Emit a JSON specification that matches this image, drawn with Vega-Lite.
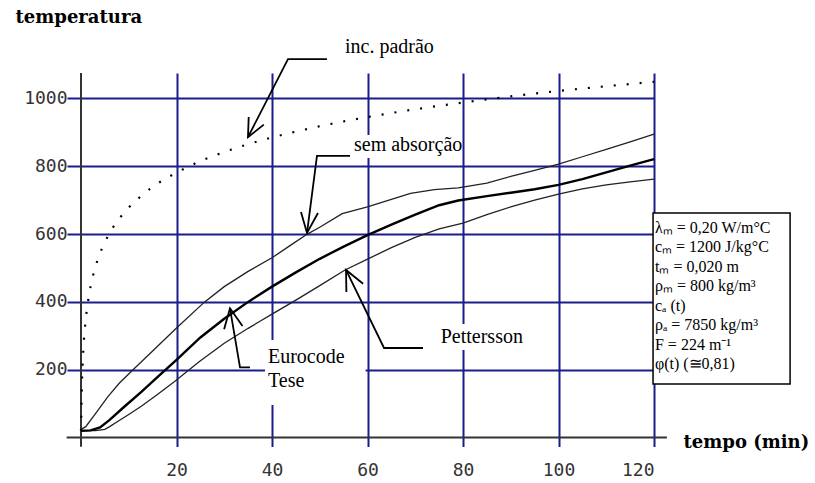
{
  "$schema": "https://vega.github.io/schema/vega-lite/v6.json",
  "autosize": {"type": "none"},
  "width": 573,
  "height": 364.5,
  "padding": {"left": 81, "top": 73, "right": 161, "bottom": 45.5},
  "background": "white",
  "config": {
    "view": {"stroke": null},
    "axis": {
      "grid": true,
      "gridColor": "#1c1c8c",
      "gridWidth": 2,
      "gridOpacity": 1,
      "tickColor": "#1c1c8c",
      "tickWidth": 2,
      "domain": false,
      "labelFont": "DejaVu Sans Mono",
      "labelFontSize": 18,
      "labelColor": "#333333",
      "titleFont": "DejaVu Serif",
      "titleFontSize": 18,
      "titleFontWeight": "bold",
      "titleColor": "black"
    }
  },
  "datasets": {
    "curves": [
      {"s": "iso", "t": 0, "T": 20}, {"s": "iso", "t": 0.25, "T": 185}, {"s": "iso", "t": 0.5, "T": 261},
      {"s": "iso", "t": 1, "T": 349}, {"s": "iso", "t": 1.5, "T": 404}, {"s": "iso", "t": 2, "T": 445},
      {"s": "iso", "t": 3, "T": 502}, {"s": "iso", "t": 4, "T": 544}, {"s": "iso", "t": 5, "T": 576},
      {"s": "iso", "t": 6, "T": 603}, {"s": "iso", "t": 8, "T": 645}, {"s": "iso", "t": 10, "T": 678},
      {"s": "iso", "t": 12, "T": 705}, {"s": "iso", "t": 15, "T": 739}, {"s": "iso", "t": 20, "T": 781},
      {"s": "iso", "t": 25, "T": 815}, {"s": "iso", "t": 30, "T": 842}, {"s": "iso", "t": 35, "T": 865},
      {"s": "iso", "t": 40, "T": 885}, {"s": "iso", "t": 45, "T": 902}, {"s": "iso", "t": 50, "T": 918},
      {"s": "iso", "t": 60, "T": 945}, {"s": "iso", "t": 70, "T": 968}, {"s": "iso", "t": 80, "T": 988},
      {"s": "iso", "t": 90, "T": 1006}, {"s": "iso", "t": 100, "T": 1022}, {"s": "iso", "t": 110, "T": 1036},
      {"s": "iso", "t": 120, "T": 1049},

      {"s": "sem", "t": 0, "T": 24}, {"s": "sem", "t": 1, "T": 32}, {"s": "sem", "t": 3, "T": 70},
      {"s": "sem", "t": 5.6, "T": 120}, {"s": "sem", "t": 8, "T": 160}, {"s": "sem", "t": 10.9, "T": 200},
      {"s": "sem", "t": 15, "T": 255}, {"s": "sem", "t": 20, "T": 323}, {"s": "sem", "t": 25.9, "T": 400},
      {"s": "sem", "t": 30, "T": 445}, {"s": "sem", "t": 35, "T": 490}, {"s": "sem", "t": 40, "T": 530},
      {"s": "sem", "t": 44, "T": 568}, {"s": "sem", "t": 47.4, "T": 600}, {"s": "sem", "t": 50, "T": 620},
      {"s": "sem", "t": 54.7, "T": 660}, {"s": "sem", "t": 60, "T": 680}, {"s": "sem", "t": 65, "T": 702},
      {"s": "sem", "t": 69, "T": 720}, {"s": "sem", "t": 74, "T": 731}, {"s": "sem", "t": 79, "T": 736},
      {"s": "sem", "t": 85, "T": 750}, {"s": "sem", "t": 90, "T": 770}, {"s": "sem", "t": 95, "T": 788},
      {"s": "sem", "t": 100, "T": 806}, {"s": "sem", "t": 105, "T": 828}, {"s": "sem", "t": 110, "T": 850},
      {"s": "sem", "t": 115, "T": 872}, {"s": "sem", "t": 120, "T": 895},

      {"s": "euro", "t": 0, "T": 20}, {"s": "euro", "t": 2, "T": 21}, {"s": "euro", "t": 4, "T": 30},
      {"s": "euro", "t": 6, "T": 52}, {"s": "euro", "t": 9, "T": 90}, {"s": "euro", "t": 12.7, "T": 135},
      {"s": "euro", "t": 16, "T": 178}, {"s": "euro", "t": 20, "T": 229}, {"s": "euro", "t": 25, "T": 295},
      {"s": "euro", "t": 30, "T": 350}, {"s": "euro", "t": 35, "T": 400}, {"s": "euro", "t": 40, "T": 445},
      {"s": "euro", "t": 45, "T": 487}, {"s": "euro", "t": 50, "T": 527}, {"s": "euro", "t": 55, "T": 563},
      {"s": "euro", "t": 60, "T": 597}, {"s": "euro", "t": 65, "T": 628}, {"s": "euro", "t": 70, "T": 657},
      {"s": "euro", "t": 75, "T": 685}, {"s": "euro", "t": 79, "T": 699}, {"s": "euro", "t": 85, "T": 712},
      {"s": "euro", "t": 90, "T": 722}, {"s": "euro", "t": 95, "T": 732}, {"s": "euro", "t": 100, "T": 745},
      {"s": "euro", "t": 105, "T": 762}, {"s": "euro", "t": 110, "T": 782}, {"s": "euro", "t": 115, "T": 802},
      {"s": "euro", "t": 120, "T": 821},

      {"s": "pet", "t": 0, "T": 20}, {"s": "pet", "t": 3, "T": 20}, {"s": "pet", "t": 5, "T": 24},
      {"s": "pet", "t": 6, "T": 32}, {"s": "pet", "t": 8, "T": 50}, {"s": "pet", "t": 10, "T": 68},
      {"s": "pet", "t": 12.7, "T": 93}, {"s": "pet", "t": 16, "T": 127}, {"s": "pet", "t": 19.6, "T": 165},
      {"s": "pet", "t": 24.8, "T": 224}, {"s": "pet", "t": 30, "T": 278}, {"s": "pet", "t": 35, "T": 322},
      {"s": "pet", "t": 37.4, "T": 342}, {"s": "pet", "t": 40, "T": 364}, {"s": "pet", "t": 45, "T": 405},
      {"s": "pet", "t": 50, "T": 448}, {"s": "pet", "t": 55.3, "T": 494}, {"s": "pet", "t": 60, "T": 526},
      {"s": "pet", "t": 65, "T": 560}, {"s": "pet", "t": 70, "T": 590}, {"s": "pet", "t": 75, "T": 615},
      {"s": "pet", "t": 80, "T": 632}, {"s": "pet", "t": 85, "T": 657}, {"s": "pet", "t": 90, "T": 680},
      {"s": "pet", "t": 95, "T": 700}, {"s": "pet", "t": 100, "T": 718}, {"s": "pet", "t": 105, "T": 733},
      {"s": "pet", "t": 110, "T": 745}, {"s": "pet", "t": 115, "T": 754}, {"s": "pet", "t": 120, "T": 762}
    ],
    "blanks": [
      {"t": 38.53, "t2": 59.6, "T": 287.6, "T2": 95.9},
      {"t": 56.34, "t2": 79.6, "T": 892, "T2": 824.5},
      {"t": 74.55, "t2": 93.4, "T": 334.8, "T2": 258.1}
    ],
    "axislines": [
      {"t": -3, "t2": 122.7, "T": 0, "T2": 0},
      {"t": 0, "t2": 0, "T": -27, "T2": 1075}
    ],
    "arrows": [
      {"id": "a1s", "o": 1, "t": 51.5, "T": 1116}, {"id": "a1s", "o": 2, "t": 43.35, "T": 1116}, {"id": "a1s", "o": 3, "t": 34.97, "T": 886},
      {"id": "a1h", "o": 1, "t": 38.29, "T": 922.7}, {"id": "a1h", "o": 2, "t": 34.97, "T": 886}, {"id": "a1h", "o": 3, "t": 35.12, "T": 945.4},
      {"id": "a2s", "o": 1, "t": 56.34, "T": 830.4}, {"id": "a2s", "o": 2, "t": 49.42, "T": 830.4}, {"id": "a2s", "o": 3, "t": 47.33, "T": 603.2},
      {"id": "a2h", "o": 1, "t": 49.63, "T": 662.2}, {"id": "a2h", "o": 2, "t": 47.33, "T": 603.2}, {"id": "a2h", "o": 3, "t": 46.07, "T": 665.2},
      {"id": "a3s", "o": 1, "t": 71.62, "T": 264.0}, {"id": "a3s", "o": 2, "t": 63.46, "T": 264.0}, {"id": "a3s", "o": 3, "t": 55.5, "T": 494.1},
      {"id": "a3h", "o": 1, "t": 55.58, "T": 429.2}, {"id": "a3h", "o": 2, "t": 55.5, "T": 494.1}, {"id": "a3h", "o": 3, "t": 59.08, "T": 453.4},
      {"id": "a4s", "o": 1, "t": 35.39, "T": 207.1}, {"id": "a4s", "o": 2, "t": 33.3, "T": 207.1}, {"id": "a4s", "o": 3, "t": 31.2, "T": 381.1},
      {"id": "a4h", "o": 1, "t": 29.97, "T": 319.5}, {"id": "a4h", "o": 2, "t": 31.2, "T": 381.1}, {"id": "a4h", "o": 3, "t": 33.82, "T": 328.6}
    ],
    "labels": [
      {"text": "inc. padrão", "t": 55.29, "T": 1134.2},
      {"text": "sem absorção", "t": 57.17, "T": 843.7},
      {"text": "Eurocode", "t": 39.16, "T": 220.6},
      {"text": "Tese", "t": 39.16, "T": 149.9},
      {"text": "Pettersson", "t": 75.33, "T": 278.8}
    ],
    "box": [
      {"t": 119.8, "t2": 148.5, "T": 662, "T2": 158}
    ],
    "params": [
      {"text": "λₘ =  0,20 W/m°C", "t": 120.2, "T": 603.2},
      {"text": "cₘ =  1200 J/kg°C", "t": 120.2, "T": 545.7},
      {"text": "tₘ =  0,020 m", "t": 120.2, "T": 488.2},
      {"text": "ρₘ = 800 kg/m³", "t": 120.2, "T": 430.7},
      {"text": "cₐ (t)", "t": 120.2, "T": 373.2},
      {"text": "ρₐ = 7850 kg/m³", "t": 120.2, "T": 315.7},
      {"text": "F = 224 m⁻¹", "t": 120.2, "T": 258.2},
      {"text": "φ(t) (≅0,81)", "t": 120.2, "T": 200.7}
    ]
  },
  "layer": [
    {
      "data": {"name": "blanks"},
      "mark": {"type": "rect", "fill": "white", "strokeWidth": 0},
      "encoding": {
        "x": {
          "field": "t", "type": "quantitative",
          "scale": {"domain": [0, 120], "nice": false, "zero": false},
          "axis": {
            "values": [20, 40, 60, 80, 100, 120],
            "format": "d",
            "tickSize": 9,
            "labelPadding": 15,
            "labelBaseline": "top",
            "title": "tempo (min)",
            "titleX": 602,
            "titleY": 9.5,
            "titleAlign": "left",
            "titleBaseline": "alphabetic",
            "titleAnchor": null
          }
        },
        "x2": {"field": "t2"},
        "y": {
          "field": "T", "type": "quantitative",
          "scale": {"domain": [0, 1075], "nice": false, "zero": false},
          "axis": {
            "values": [200, 400, 600, 800, 1000],
            "format": "d",
            "tickSize": 14,
            "labelPadding": 0,
            "labelBaseline": "middle",
            "title": "temperatura",
            "titleAngle": 0,
            "titleX": -66,
            "titleY": -50.5,
            "titleAlign": "left",
            "titleBaseline": "alphabetic"
          }
        },
        "y2": {"field": "T2"}
      }
    },
    {
      "data": {"name": "axislines"},
      "mark": {"type": "rule", "color": "#333333", "strokeWidth": 2},
      "encoding": {
        "x": {"field": "t", "type": "quantitative"},
        "x2": {"field": "t2"},
        "y": {"field": "T", "type": "quantitative"},
        "y2": {"field": "T2"}
      }
    },
    {
      "data": {"name": "curves"},
      "transform": [{"filter": "datum.s === 'iso'"}],
      "mark": {"type": "line", "color": "black", "strokeWidth": 2.2, "strokeDash": [2, 11], "interpolate": "monotone"},
      "encoding": {
        "x": {"field": "t", "type": "quantitative"},
        "y": {"field": "T", "type": "quantitative"}
      }
    },
    {
      "data": {"name": "curves"},
      "transform": [{"filter": "datum.s === 'sem' || datum.s === 'pet'"}],
      "mark": {"type": "line", "color": "#222222", "strokeWidth": 1.3},
      "encoding": {
        "x": {"field": "t", "type": "quantitative"},
        "y": {"field": "T", "type": "quantitative"},
        "detail": {"field": "s"}
      }
    },
    {
      "data": {"name": "curves"},
      "transform": [{"filter": "datum.s === 'euro'"}],
      "mark": {"type": "line", "color": "black", "strokeWidth": 2.4},
      "encoding": {
        "x": {"field": "t", "type": "quantitative"},
        "y": {"field": "T", "type": "quantitative"}
      }
    },
    {
      "data": {"name": "arrows"},
      "mark": {"type": "line", "color": "black", "strokeWidth": 1.8},
      "encoding": {
        "x": {"field": "t", "type": "quantitative"},
        "y": {"field": "T", "type": "quantitative"},
        "detail": {"field": "id"},
        "order": {"field": "o"}
      }
    },
    {
      "data": {"name": "labels"},
      "mark": {"type": "text", "font": "Liberation Serif", "fontSize": 20, "align": "left", "baseline": "alphabetic", "color": "black"},
      "encoding": {
        "x": {"field": "t", "type": "quantitative"},
        "y": {"field": "T", "type": "quantitative"},
        "text": {"field": "text"}
      }
    },
    {
      "data": {"name": "box"},
      "mark": {"type": "rect", "fill": "white", "stroke": "black", "strokeWidth": 1.5},
      "encoding": {
        "x": {"field": "t", "type": "quantitative"},
        "x2": {"field": "t2"},
        "y": {"field": "T", "type": "quantitative"},
        "y2": {"field": "T2"}
      }
    },
    {
      "data": {"name": "params"},
      "mark": {"type": "text", "font": "Liberation Serif", "fontSize": 16, "align": "left", "baseline": "alphabetic", "color": "black"},
      "encoding": {
        "x": {"field": "t", "type": "quantitative"},
        "y": {"field": "T", "type": "quantitative"},
        "text": {"field": "text"}
      }
    }
  ]
}
